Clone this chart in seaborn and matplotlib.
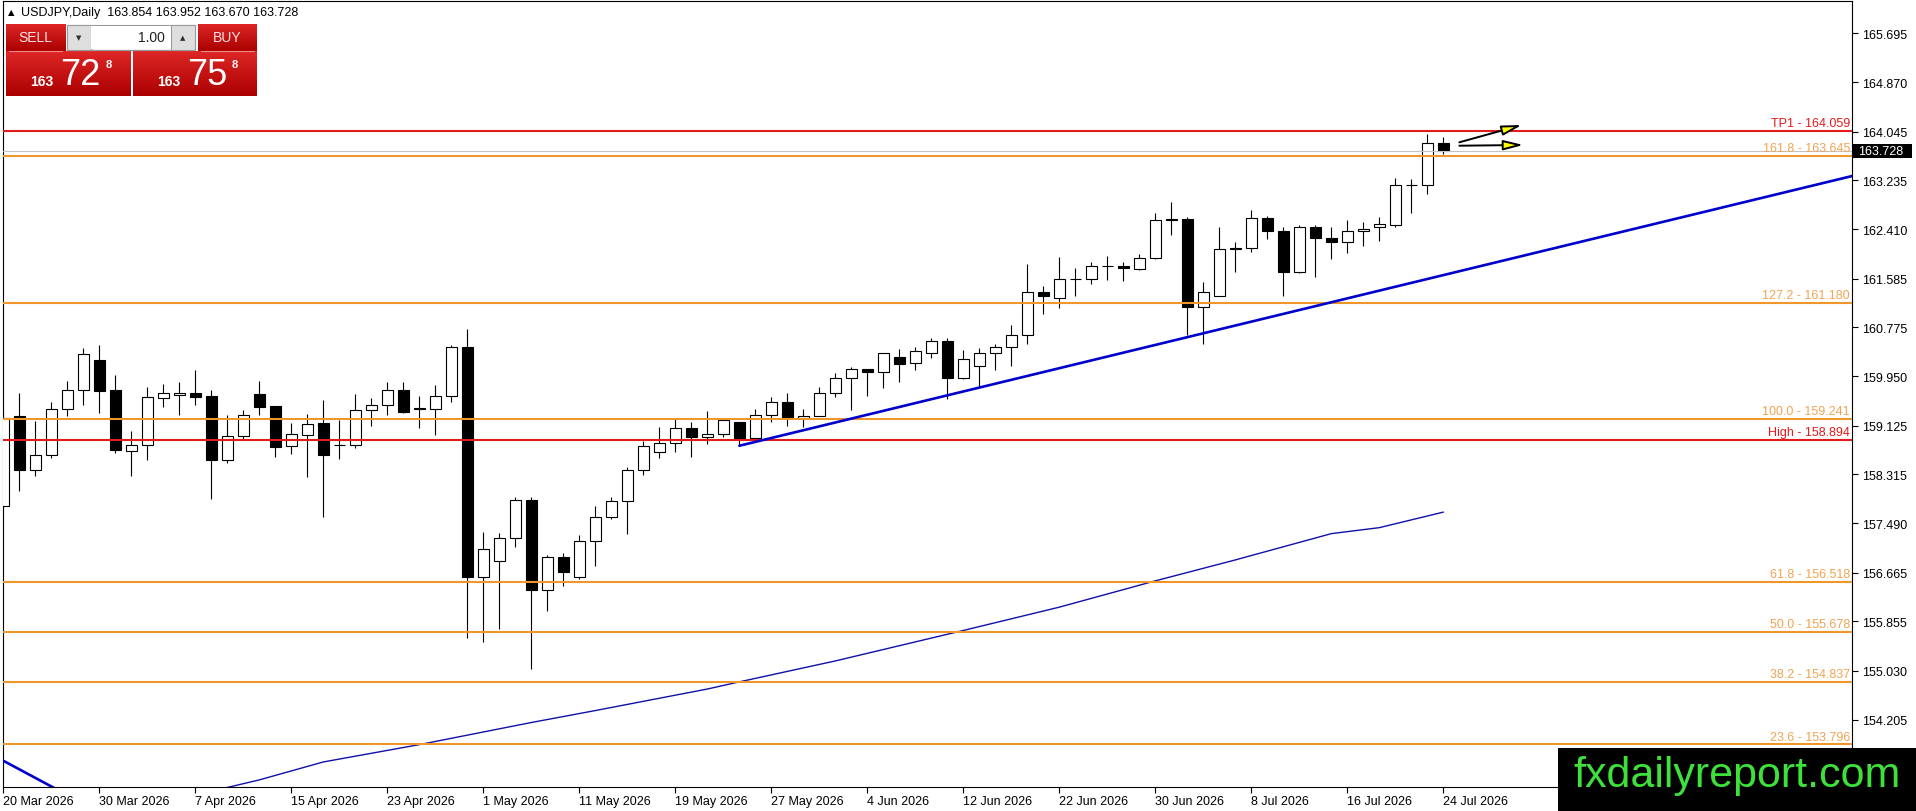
import numpy as np
import pandas as pd
import matplotlib
matplotlib.use("Agg")
import matplotlib.pyplot as plt
from matplotlib.patches import Rectangle
import seaborn as sns

# daily OHLC, USDJPY, 20 Mar 2026 .. 24 Jul 2026
opens = [157.78, 159.28, 158.39, 158.64, 159.40, 159.72, 160.22, 159.72, 158.71, 158.81,
         159.59, 159.64, 159.68, 159.62, 158.55, 158.96, 159.65, 159.45, 158.78, 158.97,
         159.17, 158.81, 158.81, 159.38, 159.48, 159.72, 159.425, 159.41, 159.62, 160.44,
         156.60, 156.87, 157.24, 157.88, 156.38, 156.93, 156.60, 157.19, 157.60, 157.87,
         158.38, 158.68, 158.83, 159.08, 158.93, 158.98, 159.18, 158.92, 159.30, 159.52,
         159.25, 159.29, 159.67, 159.92, 160.07, 160.02, 160.27, 160.17, 160.35, 160.55,
         159.93, 160.13, 160.34, 160.44, 160.65, 161.37, 161.27, 161.58, 161.58, 161.79,
         161.80, 161.74, 161.93, 162.59, 162.59, 161.11, 161.30, 162.08, 162.10, 162.60,
         162.38, 161.69, 162.45, 162.26, 162.20, 162.38, 162.45, 162.49, 163.16, 163.15,
         163.854]
highs = [159.40, 159.67, 159.20, 159.52, 159.87, 160.42, 160.47, 159.98, 159.03, 159.77,
         159.83, 159.86, 160.06, 159.72, 159.31, 159.38, 159.87, 159.46, 159.17, 159.32,
         159.55, 159.22, 159.66, 159.59, 159.86, 159.86, 159.62, 159.81, 160.48, 160.74,
         157.34, 157.33, 157.94, 157.94, 156.97, 157.00, 157.29, 157.78, 157.94, 158.43,
         158.87, 159.11, 159.25, 159.18, 159.37, 159.25, 159.19, 159.40, 159.60, 159.67,
         159.40, 159.78, 160.01, 160.11, 160.08, 160.35, 160.41, 160.45, 160.59, 160.60,
         160.39, 160.42, 160.50, 160.81, 161.83, 161.47, 161.95, 161.76, 161.86, 161.97,
         161.87, 162.00, 162.68, 162.87, 162.62, 161.53, 162.45, 162.20, 162.74, 162.63,
         162.45, 162.49, 162.49, 162.45, 162.57, 162.53, 162.61, 163.27, 163.25, 164.01,
         163.952]
lows = [157.72, 158.03, 158.29, 158.59, 159.29, 159.48, 159.34, 158.67, 158.29, 158.55,
        159.44, 159.31, 159.48, 157.90, 158.50, 158.91, 159.30, 158.60, 158.65, 158.27,
        157.60, 158.57, 158.75, 159.12, 159.30, 159.33, 159.08, 158.97, 159.53, 155.57,
        155.50, 155.72, 157.10, 155.06, 156.02, 156.44, 156.56, 156.78, 157.57, 157.32,
        158.30, 158.58, 158.69, 158.60, 158.82, 158.93, 158.79, 158.91, 159.18, 159.12,
        159.11, 159.28, 159.60, 159.39, 159.63, 159.76, 159.86, 160.06, 160.25, 159.57,
        159.91, 159.77, 160.06, 160.13, 160.50, 160.99, 161.10, 161.29, 161.50, 161.57,
        161.55, 161.73, 161.91, 162.31, 160.64, 160.50, 161.29, 161.69, 162.04, 162.25,
        161.30, 161.68, 161.62, 161.91, 162.02, 162.14, 162.22, 162.45, 162.69, 163.01,
        163.670]
closes = [159.26, 158.39, 158.64, 159.40, 159.72, 160.32, 159.71, 158.72, 158.81, 159.60,
          159.67, 159.68, 159.61, 158.55, 158.96, 159.30, 159.44, 158.77, 158.98, 159.16,
          158.64, 158.80, 159.38, 159.48, 159.72, 159.36, 159.41, 159.62, 160.44, 156.60,
          157.07, 157.24, 157.89, 156.38, 156.93, 156.68, 157.20, 157.60, 157.87, 158.38,
          158.78, 158.83, 159.08, 158.93, 158.98, 159.22, 158.92, 159.30, 159.52, 159.27,
          159.28, 159.67, 159.92, 160.07, 160.02, 160.34, 160.16, 160.37, 160.55, 159.93,
          160.24, 160.34, 160.44, 160.65, 161.37, 161.30, 161.58, 161.58, 161.79, 161.80,
          161.76, 161.93, 162.57, 162.57, 161.11, 161.37, 162.08, 162.10, 162.60, 162.38,
          161.70, 162.45, 162.26, 162.20, 162.38, 162.41, 162.50, 163.16, 163.15, 163.85,
          163.728]

dates = pd.bdate_range("2026-03-20", periods=len(opens))

y_ticks = [154.205, 155.030, 155.855, 156.665, 157.490, 158.315, 159.125, 159.950,
           160.775, 161.585, 162.410, 163.235, 164.045, 164.870, 165.695]

level_names = ["TP1", "161.8", "127.2", "100.0", "High", "61.8", "50.0", "38.2", "23.6"]
level_prices = [164.059, 163.645, 161.180, 159.241, 158.894, 156.518, 155.678, 154.837, 153.796]

# moving average read at a few bars
ma_idx = [13, 16, 20, 26, 33, 37, 44, 46, 52, 60, 66, 72, 77, 83, 86, 90]
ma_val = [153.01, 153.20, 153.50, 153.79, 154.16, 154.36, 154.72, 154.84, 155.19,
          155.70, 156.09, 156.53, 156.88, 157.32, 157.42, 157.68]

# trendlines (bar index, price)
trend_idx = [46, 91]
trend_px = [158.79, 161.71]
old_trend_idx = [0, 3]
old_trend_px = [153.52, 153.09]

# projection arrows
arrow_from = [(91.0, 163.867), (91.0, 163.810)]
arrow_to = [(94.9, 164.156), (95.0, 163.822)]

bid = 163.728
header = "USDJPY,Daily  163.854 163.952 163.670 163.728"

ORANGE = "#f0962a"
ORANGE_TXT = "#f0a452"
RED = "#e41b1b"
BLUE = "#0000cc"
NAVY = "#1010a8"

sns.set_theme(style="white")
plt.rcParams["font.family"] = ["Liberation Sans", "DejaVu Sans"]

W, H = 1916, 812
fig = plt.figure(figsize=(W / 100, H / 100), dpi=100, facecolor="white")
ax = fig.add_axes([2.7 / W, 1 - 788 / H, (1852 - 2.7) / W, (788 - 2) / H])
x0, x1 = -0.04, 115.54
y0, y1 = 153.081, 166.231

df = pd.DataFrame({"o": opens, "h": highs, "l": lows, "c": closes})
df["i"] = np.arange(len(df))
up = df["c"] >= df["o"]

# candles
ax.vlines(df["i"], df["l"], df["h"], color="black", lw=0.8, zorder=2)
body_lo = np.minimum(df["o"], df["c"])
body_h = np.maximum((df["c"] - df["o"]).abs(), 0.004)
ax.bar(df["i"], body_h, bottom=body_lo, width=0.66,
       color=np.where(up, "white", "black"), edgecolor="black", lw=0.8, zorder=3)

# moving average
sns.lineplot(x=ma_idx, y=ma_val, ax=ax, color=NAVY, lw=1.0, zorder=4)

# trendlines, drawn as rays
slope = (trend_px[1] - trend_px[0]) / (trend_idx[1] - trend_idx[0])
sns.lineplot(x=[trend_idx[0], x1], y=[trend_px[0], trend_px[0] + slope * (x1 - trend_idx[0])],
             ax=ax, color=BLUE, lw=1.9, zorder=6)
s2 = (old_trend_px[1] - old_trend_px[0]) / (old_trend_idx[1] - old_trend_idx[0])
sns.lineplot(x=[-2, 8], y=[old_trend_px[0] + s2 * (-2 - old_trend_idx[0]),
                           old_trend_px[0] + s2 * (8 - old_trend_idx[0])],
             ax=ax, color=BLUE, lw=1.9, zorder=6)

# fibonacci / target levels
for name, p in zip(level_names, level_prices):
    is_red = name in ("TP1", "High")
    ax.axhline(p, color=RED if is_red else ORANGE, lw=1.5, zorder=5)
    ax.annotate(f"{name} - {p:.3f}", xy=(1, p), xycoords=ax.get_yaxis_transform(),
                xytext=(-1.5, 1.2), textcoords="offset points", ha="right", va="bottom",
                color=RED if is_red else ORANGE_TXT, fontsize=9, zorder=7)
ax.axhline(bid, color="#c4c4c4", lw=0.8, zorder=5)

for a, b in zip(arrow_from, arrow_to):
    ax.annotate("", xy=b, xytext=a,
                arrowprops=dict(arrowstyle="-|>,head_length=1.2,head_width=0.3",
                                fc="yellow", ec="black", lw=1.4, shrinkA=0, shrinkB=0,
                                mutation_scale=10), zorder=8)

ax.set_xlim(x0, x1)
ax.set_ylim(y0, y1)
ax.grid(False)
ax.set_xlabel("")
ax.set_ylabel("")
ax.yaxis.tick_right()
ax.set_yticks(y_ticks)
ax.set_yticklabels([f"{v:.3f}" for v in y_ticks])
ax.tick_params(axis="y", left=False, right=True, direction="out", length=4, width=0.8,
               pad=3, labelsize=9, colors="black")
lab_idx = list(range(0, len(dates), 6))
ax.set_xticks(lab_idx)
ax.set_xticklabels([f"{d.day} {d:%b %Y}" for d in dates[lab_idx]], ha="left")
ax.tick_params(axis="x", bottom=True, direction="out", length=4, width=0.8, pad=2,
               labelsize=9, colors="black")
for sp in ax.spines.values():
    sp.set_color("black")
    sp.set_linewidth(0.8)

# overlay in pixel coordinates for terminal widgets
ov = fig.add_axes([0, 0, 1, 1], zorder=10)
ov.set_xlim(0, W)
ov.set_ylim(H, 0)
ov.axis("off")


def red_box(xa, ya, xb, yb):
    t = np.linspace(0, 1, 60)[:, None]
    top = np.array([0.87, 0.15, 0.15])
    bot = np.array([0.67, 0.0, 0.0])
    img = (top * (1 - t) + bot * t)[:, None, :]
    ov.imshow(img, extent=(xa, xb, yb, ya), aspect="auto", interpolation="bilinear", zorder=1)


red_box(6, 25, 66, 52)
red_box(6, 52, 131, 97)
red_box(198, 25, 257, 52)
red_box(133, 52, 257, 97)
ov.plot([9, 62], [51.5, 51.5], color="#f08a8a", lw=0.8, zorder=2)
ov.plot([201, 254], [51.5, 51.5], color="#f08a8a", lw=0.8, zorder=2)
ov.add_patch(Rectangle((67, 26), 128.5, 25, fc="#f2f2f2", ec="#9a9a9a", lw=0.8, zorder=2))
ov.add_patch(Rectangle((67, 26), 24.5, 25, fc="#dedede", ec="#9a9a9a", lw=0.8, zorder=3))
ov.add_patch(Rectangle((171, 26), 24.5, 25, fc="#dedede", ec="#9a9a9a", lw=0.8, zorder=3))
ov.add_patch(Rectangle((91.5, 27), 79.5, 23, fc="white", ec="none", zorder=3))
ov.text(79, 38.5, "\u25bc", fontsize=5, ha="center", va="center", color="#303030", zorder=4,
        family=["DejaVu Sans"])
ov.text(183, 38.5, "\u25b2", fontsize=5, ha="center", va="center", color="#303030", zorder=4,
        family=["DejaVu Sans"])
ov.text(165, 38.5, "1.00", fontsize=10, ha="right", va="center", color="#202020", zorder=4)
ov.text(35, 38.5, "SELL", fontsize=10, ha="center", va="center", color="#ffe2e2", zorder=4)
ov.text(227, 38.5, "BUY", fontsize=10, ha="center", va="center", color="#ffe2e2", zorder=4)
for cx, big in [(0, closes[-1]), (126.5, 163.758)]:
    txt = f"{big:.3f}"
    ov.text(42 + cx, 82.5, txt[:3], fontsize=10, weight="bold", ha="center", va="center",
            color="white", zorder=4)
    ov.text(80.5 + cx, 75.5, txt[4:6], fontsize=26, ha="center", va="center", color="white",
            zorder=4)
    ov.text(108.5 + cx, 65, txt[6], fontsize=8, weight="bold", ha="center", va="center",
            color="white", zorder=4)

ov.text(11, 12.7, "\u25b2", fontsize=6, ha="center", va="center", color="black",
        family=["DejaVu Sans"])
ov.text(21, 12.7, header, fontsize=9, ha="left", va="center", color="black")

# current price tag on the price scale
ypix = H - ax.transData.transform((0, bid))[1]
ov.add_patch(Rectangle((1852, ypix - 7), 60, 14, fc="black", ec="none", zorder=3))
ov.text(1858, ypix, f"{bid:.3f}", fontsize=9, ha="left", va="center", color="white", zorder=4)

# watermark
ov.add_patch(Rectangle((1558, 749), 358, 63, fc="black", ec="none", zorder=5))
ov.text(1737, 776, "fxdailyreport.com", fontsize=31, ha="center", va="center",
        color="#3ee03a", zorder=6)
ov.set_xlim(0, W)
ov.set_ylim(H, 0)

fig.savefig("out.png", dpi=100, facecolor="white")
